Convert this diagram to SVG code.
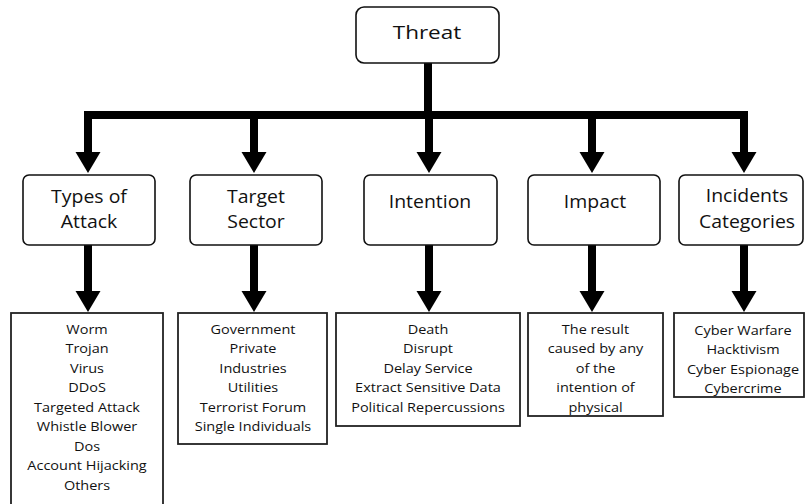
<svg xmlns="http://www.w3.org/2000/svg" width="805" height="504" viewBox="0 0 805 504">
<style>
.hb{fill:#fff;stroke:#111;stroke-width:1.6}
.lb{fill:#fff;stroke:#222;stroke-width:1.8}
.ht{font-family:"Open Sans","Liberation Sans",sans-serif;font-size:18px;fill:#111;text-anchor:middle}
.lt{font-family:"Open Sans","Liberation Sans",sans-serif;font-size:12.6px;fill:#111;text-anchor:middle}
.c{fill:none;stroke:#000;stroke-width:8;stroke-linejoin:miter}
</style>
<defs>
<marker id="ah" markerUnits="userSpaceOnUse" markerWidth="22" markerHeight="26" refX="0" refY="12.5" orient="auto">
<path d="M0,0 L21,12.5 L0,25 z" fill="#000"/>
</marker>
</defs>
<rect width="805" height="504" fill="#fff"/>
<g id="connectors">
<path class="c" d="M428,63 V115"/>
<path class="c" d="M88,152 V115 H744 V152" marker-end="url(#ah)"/>
<path class="c" d="M88,119 V152" marker-end="url(#ah)"/>
<path class="c" d="M254,115 V152" marker-end="url(#ah)"/>
<path class="c" d="M429,115 V152" marker-end="url(#ah)"/>
<path class="c" d="M592,115 V152" marker-end="url(#ah)"/>
<path class="c" d="M88,245 V291" marker-end="url(#ah)"/>
<path class="c" d="M254,245 V291" marker-end="url(#ah)"/>
<path class="c" d="M429,245 V291" marker-end="url(#ah)"/>
<path class="c" d="M592,245 V291" marker-end="url(#ah)"/>
<path class="c" d="M744,245 V291" marker-end="url(#ah)"/>
</g>
<g id="threat">
<rect class="hb" x="356" y="7" width="143" height="56" rx="8"/>
<g transform="translate(427,0) scale(1.25,1)"><text class="ht" x="0" y="39" font-size="20">Threat</text></g>
</g>
<g id="types">
<rect class="hb" x="23" y="175" width="132" height="70" rx="6"/>
<g transform="translate(89,0) scale(1.08,1)">
<text class="ht" x="0" y="203">Types of</text>
<text class="ht" x="0" y="228">Attack</text>
</g>
</g>
<g id="target">
<rect class="hb" x="190" y="175" width="132" height="70" rx="6"/>
<g transform="translate(256,0) scale(1.08,1)">
<text class="ht" x="0" y="203">Target</text>
<text class="ht" x="0" y="228">Sector</text>
</g>
</g>
<g id="intention">
<rect class="hb" x="364" y="175" width="133" height="70" rx="6"/>
<g transform="translate(430,0) scale(1.08,1)"><text class="ht" x="0" y="208">Intention</text></g>
</g>
<g id="impact">
<rect class="hb" x="528" y="175" width="132" height="70" rx="6"/>
<g transform="translate(595,0) scale(1.08,1)"><text class="ht" x="0" y="208">Impact</text></g>
</g>
<g id="incidents">
<rect class="hb" x="679" y="175" width="124" height="70" rx="6"/>
<g transform="translate(747,0) scale(1.08,1)">
<text class="ht" x="0" y="202">Incidents</text>
<text class="ht" x="0" y="228">Categories</text>
</g>
</g>
<g id="types-list">
<rect class="lb" x="11" y="313" width="152" height="192"/>
<g transform="translate(87,0) scale(1.15,1)">
<text class="lt" x="0" y="334">Worm</text>
<text class="lt" x="0" y="353.5">Trojan</text>
<text class="lt" x="0" y="373">Virus</text>
<text class="lt" x="0" y="392.5">DDoS</text>
<text class="lt" x="0" y="412">Targeted Attack</text>
<text class="lt" x="0" y="431.5">Whistle Blower</text>
<text class="lt" x="0" y="451">Dos</text>
<text class="lt" x="0" y="470.5">Account Hijacking</text>
<text class="lt" x="0" y="490">Others</text>
</g>
</g>
<g id="target-list">
<rect class="lb" x="178" y="313" width="149" height="131"/>
<g transform="translate(253,0) scale(1.15,1)">
<text class="lt" x="0" y="334">Government</text>
<text class="lt" x="0" y="353.5">Private</text>
<text class="lt" x="0" y="373">Industries</text>
<text class="lt" x="0" y="392.5">Utilities</text>
<text class="lt" x="0" y="412">Terrorist Forum</text>
<text class="lt" x="0" y="431.5">Single Individuals</text>
</g>
</g>
<g id="intention-list">
<rect class="lb" x="336" y="313" width="184" height="113"/>
<g transform="translate(428,0) scale(1.15,1)">
<text class="lt" x="0" y="334">Death</text>
<text class="lt" x="0" y="353.5">Disrupt</text>
<text class="lt" x="0" y="373">Delay Service</text>
<text class="lt" x="0" y="392.5">Extract Sensitive Data</text>
<text class="lt" x="0" y="412">Political Repercussions</text>
</g>
</g>
<g id="impact-list">
<rect class="lb" x="528" y="313" width="135" height="103"/>
<g transform="translate(595.5,0) scale(1.15,1)">
<text class="lt" x="0" y="334">The result</text>
<text class="lt" x="0" y="353.5">caused by any</text>
<text class="lt" x="0" y="373">of the</text>
<text class="lt" x="0" y="392.5">intention of</text>
<text class="lt" x="0" y="412">physical</text>
</g>
</g>
<g id="incidents-list">
<rect class="lb" x="674" y="313" width="130" height="84"/>
<g transform="translate(743,0) scale(1.15,1)">
<text class="lt" x="0" y="335">Cyber Warfare</text>
<text class="lt" x="0" y="354.5">Hacktivism</text>
<text class="lt" x="0" y="374">Cyber Espionage</text>
<text class="lt" x="0" y="393.5">Cybercrime</text>
</g>
</g>
</svg>
